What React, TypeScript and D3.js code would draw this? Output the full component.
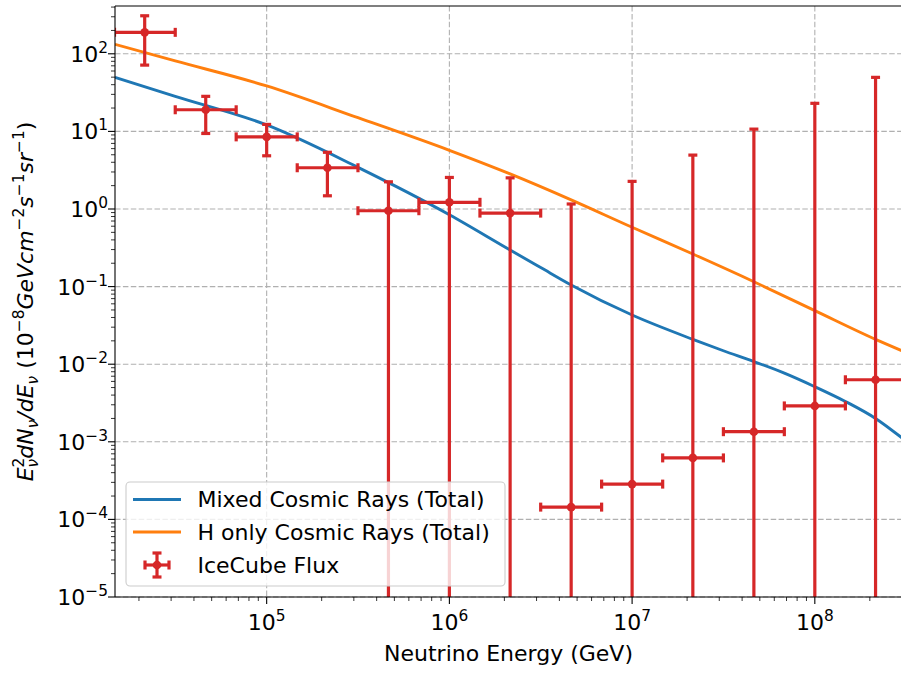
import React from 'react';
import * as d3 from 'd3';

// curves (energy in GeV, flux in 1e-8 GeV cm^-2 s^-1 sr^-1)
const mixedE = [1.479e4, 3.16e4, 1e5, 3.16e5, 1e6, 2.15e6, 3.16e6, 4.64e6, 1e7, 2.15e7, 3.16e7, 4.64e7, 6.81e7, 1e8, 1.47e8, 2.15e8, 3e8];
const mixedFlux = [49.8, 28.3, 12.1, 3.44, 0.843, 0.296, 0.176, 0.105, 0.043, 0.0209, 0.0149, 0.0108, 0.00767, 0.00513, 0.00331, 0.002, 0.00112];
const hOnlyE = [1.479e4, 3.16e4, 1e5, 3.16e5, 1e6, 2.15e6, 4.64e6, 1e7, 2.15e7, 4.64e7, 1e8, 2.15e8, 3e8];
const hOnlyFlux = [132.4, 80.9, 38.5, 15.0, 5.7, 2.83, 1.31, 0.581, 0.263, 0.1156, 0.049, 0.0209, 0.0149];

// IceCube points
const iceE = [2.15e4, 4.64e4, 1e5, 2.15e5, 4.64e5, 1e6, 2.15e6, 4.64e6, 1e7, 2.15e7, 4.64e7, 1e8, 2.15e8];
const iceELow = [1.47e4, 3.16e4, 6.81e4, 1.47e5, 3.16e5, 6.81e5, 1.47e6, 3.16e6, 6.81e6, 1.47e7, 3.16e7, 6.81e7, 1.47e8];
const iceEHigh = [3.16e4, 6.81e4, 1.47e5, 3.16e5, 6.81e5, 1.47e6, 3.16e6, 6.81e6, 1.47e7, 3.16e7, 6.81e7, 1.47e8, 3.16e8];
const iceFlux = [189, 19, 8.5, 3.4, 0.95, 1.22, 0.885, 1.44e-4, 2.85e-4, 6.2e-4, 1.35e-3, 2.9e-3, 6.3e-3];
const iceUp = [309, 28.3, 12.3, 5.38, 2.24, 2.55, 2.52, 1.16, 2.27, 4.95, 10.7, 23, 49.7];
const iceDown = [71.5, 9.4, 4.85, 1.48, 0, 0, 0, 0, 0, 0, 0, 0, 0];

const xTickExp = [5, 6, 7, 8];
const yTickExp = [-5, -4, -3, -2, -1, 0, 1, 2];
const legendLabels = ['Mixed Cosmic Rays (Total)', 'H only Cosmic Rays (Total)', 'IceCube Flux'];

const W = 901, H = 673;
const L = 115, T = 6, R = 902, B = 597;
const FS = 22;
const SFS = FS * 0.7;
const FONT = "'DejaVu Sans', sans-serif";
const BLUE = '#1f77b4', ORANGE = '#ff7f0e', RED = '#d62728';

const x = d3.scaleLog().domain([1.479e4, 3e8]).range([L, R]);
const y = d3.scaleLog().domain([1e-5, 413]).range([B, T]);

const minorX: number[] = [];
for (let e = 4; e <= 8; e++) for (let m = 2; m <= 9; m++) {
  const v = m * Math.pow(10, e);
  if (v >= 1.479e4 && v <= 3e8) minorX.push(v);
}
const minorY: number[] = [];
for (let e = -5; e <= 2; e++) for (let m = 2; m <= 9; m++) {
  const v = m * Math.pow(10, e);
  if (v <= 413) minorY.push(v);
}

const line = d3.line<[number, number]>()
  .x(d => x(d[0]))
  .y(d => y(d[1]))
  .curve(d3.curveMonotoneX);

function Sup({ t }: { t: string }) {
  return <tspan dy={-9} fontSize={SFS}>{t}</tspan>;
}

export default function App() {
  const blueD = line(mixedE.map((e, i) => [e, mixedFlux[i]]))!;
  const orangeD = line(hOnlyE.map((e, i) => [e, hOnlyFlux[i]]))!;
  const cap = 4.5;
  const ew = 3.2;

  return (
    <div style={{ position: 'absolute', left: 0, top: 0 }}>
      <svg width={W} height={H} fontFamily={FONT} style={{ display: 'block' }}>
        <rect width={W} height={H} fill="#fff" />
        <defs>
          <clipPath id="plot">
            <rect x={L} y={T} width={R - L} height={B - T} />
          </clipPath>
        </defs>

        {/* grid */}
        <g stroke="#b0b0b0" strokeWidth={1.1} strokeDasharray="5.5,2.4">
          {xTickExp.map(e => (
            <line key={'gx' + e} x1={x(Math.pow(10, e))} x2={x(Math.pow(10, e))} y1={T} y2={B} />
          ))}
          {yTickExp.map(e => (
            <line key={'gy' + e} x1={L} x2={R} y1={y(Math.pow(10, e))} y2={y(Math.pow(10, e))} />
          ))}
        </g>

        <g clipPath="url(#plot)">
          <path d={blueD} fill="none" stroke={BLUE} strokeWidth={2.9} />
          <path d={orangeD} fill="none" stroke={ORANGE} strokeWidth={2.9} />
          {iceE.map((e, i) => {
            const cx = x(e);
            const cy = y(iceFlux[i]);
            const yTop = y(iceUp[i]);
            const yBot = iceDown[i] > 0 ? y(iceDown[i]) : B + 10;
            const xl = x(iceELow[i]);
            const xr = x(iceEHigh[i]);
            return (
              <g key={'p' + i} stroke={RED} strokeWidth={ew} fill={RED}>
                <line x1={cx} x2={cx} y1={yTop} y2={yBot} />
                <line x1={xl} x2={xr} y1={cy} y2={cy} />
                <line x1={cx - cap} x2={cx + cap} y1={yTop} y2={yTop} />
                {iceDown[i] > 0 && <line x1={cx - cap} x2={cx + cap} y1={yBot} y2={yBot} />}
                <line x1={xl} x2={xl} y1={cy - cap} y2={cy + cap} />
                <line x1={xr} x2={xr} y1={cy - cap} y2={cy + cap} />
                <circle cx={cx} cy={cy} r={4.3} stroke="none" />
              </g>
            );
          })}
        </g>

        {/* spines */}
        <g stroke="#000" strokeWidth={1.1} fill="none">
          <line x1={L} x2={L} y1={T} y2={B} />
          <line x1={L} x2={R} y1={B} y2={B} />
          <line x1={L} x2={R} y1={T} y2={T} />
          <line x1={R} x2={R} y1={T} y2={B} />
        </g>

        {/* ticks */}
        <g stroke="#000">
          {xTickExp.map(e => (
            <line key={'tx' + e} x1={x(Math.pow(10, e))} x2={x(Math.pow(10, e))} y1={B} y2={B + 7} strokeWidth={1.1} />
          ))}
          {minorX.map(v => (
            <line key={'mx' + v} x1={x(v)} x2={x(v)} y1={B} y2={B + 4} strokeWidth={0.8} />
          ))}
          {yTickExp.map(e => (
            <line key={'ty' + e} x1={L - 7} x2={L} y1={y(Math.pow(10, e))} y2={y(Math.pow(10, e))} strokeWidth={1.1} />
          ))}
          {minorY.map(v => (
            <line key={'my' + v} x1={L - 4} x2={L} y1={y(v)} y2={y(v)} strokeWidth={0.8} />
          ))}
        </g>

        {/* tick labels */}
        <g fontSize={FS} fill="#000">
          {xTickExp.map(e => (
            <text key={'lx' + e} x={x(Math.pow(10, e))} y={630} textAnchor="middle">
              10<Sup t={String(e)} />
            </text>
          ))}
          {yTickExp.map(e => (
            <text key={'ly' + e} x={108} y={y(Math.pow(10, e)) + 8} textAnchor="end">
              10<Sup t={String(e).replace('-', '\u2212')} />
            </text>
          ))}
        </g>

        {/* axis labels */}
        <text x={(L + R) / 2} y={661} textAnchor="middle" fontSize={FS}>Neutrino Energy (GeV)</text>
        <text transform={`translate(33,${(T + B) / 2}) rotate(-90)`} textAnchor="middle" fontSize={FS}>
          <tspan fontStyle="italic">E</tspan>
          <tspan dy={-9} fontSize={SFS}>2</tspan>
          <tspan dy={14} dx={-9.8} fontSize={SFS} fontStyle="italic">ν</tspan>
          <tspan dy={-5} fontStyle="italic">dN</tspan>
          <tspan dy={5} fontSize={SFS} fontStyle="italic">ν</tspan>
          <tspan dy={-5} fontStyle="italic">/dE</tspan>
          <tspan dy={5} fontSize={SFS} fontStyle="italic">ν</tspan>
          <tspan dy={-5}> (10</tspan>
          <tspan dy={-9} fontSize={SFS}>−8</tspan>
          <tspan dy={9} fontStyle="italic">GeVcm</tspan>
          <tspan dy={-9} fontSize={SFS}>−2</tspan>
          <tspan dy={9} fontStyle="italic">s</tspan>
          <tspan dy={-9} fontSize={SFS}>−1</tspan>
          <tspan dy={9} fontStyle="italic">sr</tspan>
          <tspan dy={-9} fontSize={SFS}>−1</tspan>
          <tspan dy={9}>)</tspan>
        </text>

        {/* legend */}
        <g>
          <rect x={126} y={482} width={379} height={104} rx={4} fill="#fff" fillOpacity={0.8} stroke="#cccccc" strokeWidth={1.1} />
          <line x1={133} x2={181} y1={499.5} y2={499.5} stroke={BLUE} strokeWidth={2.9} />
          <line x1={133} x2={181} y1={532} y2={532} stroke={ORANGE} strokeWidth={2.9} />
          <g stroke={RED} strokeWidth={ew} fill={RED}>
            <line x1={157} x2={157} y1={553} y2={577} />
            <line x1={145} x2={169} y1={565} y2={565} />
            <line x1={157 - cap} x2={157 + cap} y1={553} y2={553} />
            <line x1={157 - cap} x2={157 + cap} y1={577} y2={577} />
            <line x1={145} x2={145} y1={565 - cap} y2={565 + cap} />
            <line x1={169} x2={169} y1={565 - cap} y2={565 + cap} />
            <circle cx={157} cy={565} r={4.3} stroke="none" />
          </g>
          {legendLabels.map((t, i) => (
            <text key={t} x={197.5} y={[507, 540, 573][i]} fontSize={FS}>{t}</text>
          ))}
        </g>
      </svg>
    </div>
  );
}
